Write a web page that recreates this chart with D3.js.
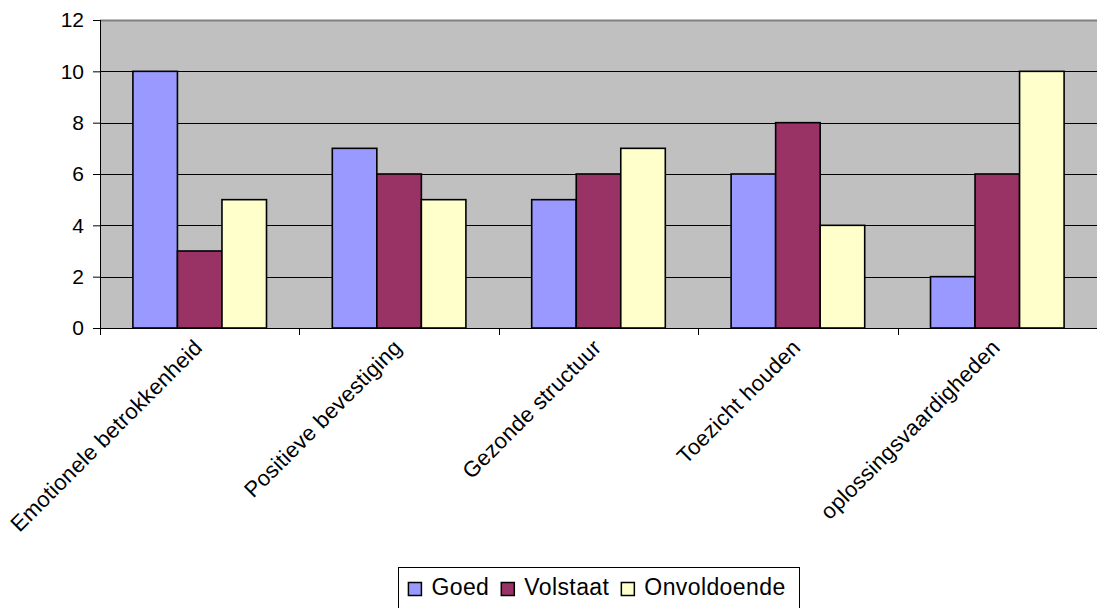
<!DOCTYPE html>
<html><head><meta charset="utf-8">
<script src="https://cdn.jsdelivr.net/npm/d3@7"></script>
<style>
html,body{margin:0;padding:0;background:#fff;}
svg{display:block;font-family:"Liberation Sans",Arial,sans-serif;}
</style></head>
<body>
<svg id="c" width="1097" height="608"></svg>
<script>
const categories = ["Emotionele betrokkenheid","Positieve bevestiging","Gezonde structuur","Toezicht houden","oplossingsvaardigheden"];
const seriesNames = ["Goed","Volstaat","Onvoldoende"];
const goed = [10,7,5,6,2];
const volstaat = [3,6,6,8,6];
const onvoldoende = [5,5,7,4,10];
const colors = ["#9999FF","#993366","#FFFFCC"];
const yTicks = [0,2,4,6,8,10,12];

const seriesValues = [goed, volstaat, onvoldoende];
const data = categories.map((c,i)=>({cat:c, vals: seriesNames.map((s,j)=>({s, v: seriesValues[j][i], color: colors[j]}))}));

const svg = d3.select("#c");
const L=100, R=1097, T=20, B=328;

const x0 = d3.scaleBand().domain(categories).range([L,R]).paddingInner(0.33).paddingOuter(0.165);
const x1 = d3.scaleBand().domain(seriesNames).range([0,x0.bandwidth()]);
const y = d3.scaleLinear().domain([0,12]).range([B,T]);
const step = x0.step();

svg.append("rect").attr("x",L).attr("y",T).attr("width",R-L).attr("height",B-T).attr("fill","#C0C0C0");
svg.append("line").attr("x1",L).attr("x2",R).attr("y1",T+0.5).attr("y2",T+0.5).attr("stroke","#808080").attr("stroke-width",2);

svg.append("g").selectAll("line").data(yTicks.filter(t=>t>0 && t<12)).join("line")
  .attr("x1",L).attr("x2",R).attr("y1",d=>Math.round(y(d))+0.5).attr("y2",d=>Math.round(y(d))+0.5)
  .attr("stroke","#000").attr("stroke-width",1);

const g = svg.append("g").selectAll("g").data(data).join("g")
  .attr("transform",d=>`translate(${x0(d.cat)},0)`);
g.selectAll("rect").data(d=>d.vals).join("rect")
  .attr("x",d=>x1(d.s)).attr("width",x1.bandwidth())
  .attr("y",d=>y(d.v)).attr("height",d=>y(0)-y(d.v))
  .attr("fill",d=>d.color).attr("stroke","#000").attr("stroke-width",1.6);

const yAxis = d3.axisLeft(y).tickValues(yTicks).tickSize(7).tickPadding(9).tickFormat(d3.format("d"));
const ya = svg.append("g").attr("transform",`translate(${L},0)`).call(yAxis);
ya.select(".domain").attr("d",`M0.5,${T}V${B}`).attr("stroke","#000");
ya.selectAll(".tick line").attr("stroke","#000");
ya.selectAll(".tick text").attr("font-size",21).attr("fill","#000").attr("font-family","Liberation Sans, Arial, sans-serif");

const xa = svg.append("g");
xa.append("line").attr("x1",L).attr("x2",R).attr("y1",B+0.5).attr("y2",B+0.5).attr("stroke","#000");
const bounds = d3.range(categories.length+1).map(i=>L+i*step);
xa.selectAll(".bt").data(bounds).join("line").attr("class","bt")
  .attr("x1",d=>Math.round(d)+0.5).attr("x2",d=>Math.round(d)+0.5).attr("y1",B).attr("y2",B+7).attr("stroke","#000");
xa.selectAll("text").data(categories).join("text")
  .attr("transform",d=>`translate(${x0(d)+x0.bandwidth()/2+4},${B+21}) rotate(-45)`)
  .attr("text-anchor","end").attr("font-size",22).attr("letter-spacing","0.25px").attr("fill","#000").text(d=>d);

const lg = svg.append("g");
const box = lg.append("rect").attr("y",567.5).attr("height",45).attr("fill","#fff").attr("stroke","#000").attr("stroke-width",1);
const items = lg.selectAll("g.li").data(seriesNames).join("g").attr("class","li");
items.append("rect").attr("width",13).attr("height",13).attr("y",582.5).attr("fill",(d,i)=>colors[i]).attr("stroke","#000").attr("stroke-width",1.5);
items.append("text").attr("y",595).attr("font-size",23).attr("letter-spacing","0.4px").attr("fill","#000").text(d=>d);
const widths=[];
items.each(function(){widths.push(this.querySelector("text").getComputedTextLength());});
const sq=13, g1=10, g2=12;
let total = 10 + d3.sum(widths.map(w=>sq+g1+w)) + g2*(widths.length-1) + 14;
const bx = 599 - total/2;
box.attr("x",Math.round(bx)+0.5).attr("width",Math.round(total));
let px = bx+10;
items.each(function(d,i){
  d3.select(this).select("rect").attr("x",px);
  d3.select(this).select("text").attr("x",px+sq+g1);
  px += sq+g1+widths[i]+g2;
});
</script>
</body></html>
